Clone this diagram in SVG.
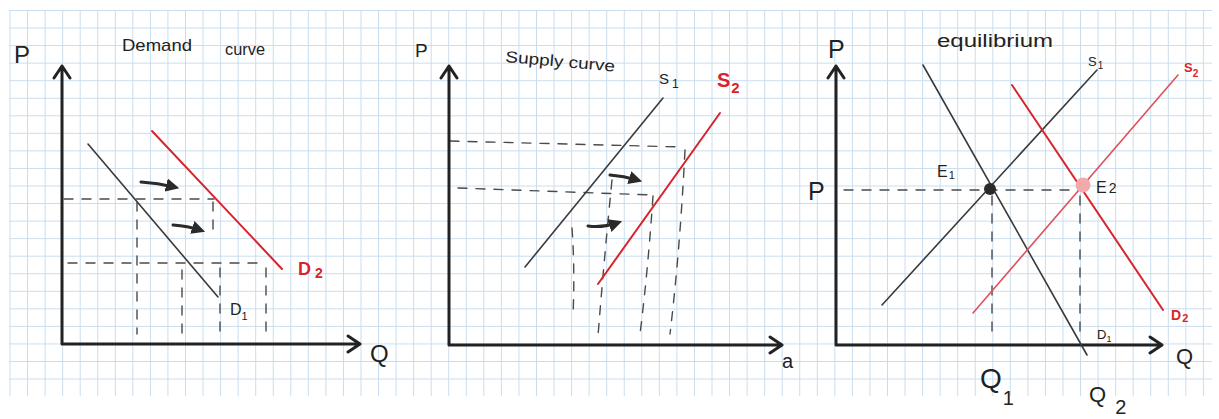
<svg xmlns="http://www.w3.org/2000/svg" width="1219" height="419" viewBox="0 0 1219 419">
<defs>
<pattern id="grid" patternUnits="userSpaceOnUse" x="9.5" y="10" width="17.55" height="17.55">
<path d="M0 0.5 H17.55 M0.5 0 V17.55" fill="none" stroke="#c9ddef" stroke-width="1"/>
</pattern>
<marker id="head" viewBox="0 0 10 10" refX="6" refY="5" markerWidth="4.5" markerHeight="4.5" orient="auto" markerUnits="strokeWidth">
<path d="M0 0 L10 5 L0 10 Z" fill="#2a2a2a"/>
</marker>
<style>
.axis{fill:none;stroke:#222;stroke-width:3;stroke-linecap:round;stroke-linejoin:round}
.blk{fill:none;stroke:#3a3a3a;stroke-width:1.6;stroke-linecap:round}
.red{fill:none;stroke:#d8242c;stroke-width:2;stroke-linecap:round}
.pink{fill:none;stroke:#e0505a;stroke-width:1.6;stroke-linecap:round}
.dash{fill:none;stroke:#4a4a4a;stroke-width:1.4;stroke-dasharray:9 9;stroke-linecap:round}
.shift{fill:none;stroke:#2a2a2a;stroke-width:3;stroke-linecap:round;marker-end:url(#head)}
.t{font-family:"Liberation Sans","DejaVu Sans",sans-serif;fill:#222}
.tr{font-family:"Liberation Sans","DejaVu Sans",sans-serif;fill:#d8242c;font-weight:bold}
</style>
</defs>
<rect x="0" y="0" width="1219" height="419" fill="#ffffff"/>
<rect x="9" y="10" width="1203" height="386" fill="url(#grid)"/>

<g id="demand-panel">
<text class="t" x="14" y="63" font-size="24">P</text>
<text class="t" x="122" y="51" font-size="17" textLength="70" lengthAdjust="spacingAndGlyphs">Demand</text>
<text class="t" x="225" y="55" font-size="17" textLength="40" lengthAdjust="spacingAndGlyphs">curve</text>
<path class="axis" d="M62 66 V344 H360 M54 78 L62 66 L70 78 M348 336 L360 344 L348 352"/>
<text class="t" x="370" y="362" font-size="24">Q</text>
</g>

<g id="demand-curves">
<line class="blk" x1="88" y1="144" x2="218" y2="297"/>
<line class="red" x1="152" y1="131" x2="282" y2="269"/>
<text class="tr" x="298" y="275" font-size="18">D<tspan font-size="14" dx="4" dy="3">2</tspan></text>
<text class="t" x="230" y="315" font-size="16">D<tspan font-size="11" dy="5">1</tspan></text>
</g>

<g id="connectors">
<path class="dash" d="M64 199 H214"/>
<path class="dash" d="M68 263 H262"/>
<path class="dash" d="M137 202 V334"/>
<path class="dash" d="M182 270 V336"/>
<path class="dash" d="M213 202 V234"/>
<path class="dash" d="M220 268 V339"/>
<path class="dash" d="M266 268 V340"/>
<path class="shift" d="M141 182 Q158 183 174 187"/>
<path class="shift" d="M173 225 Q188 226 200 230"/>
<path class="dash" d="M450 141 L682 147"/>
<path class="dash" d="M458 188 L652 195"/>
<path class="dash" d="M572 228 Q575 270 573 315"/>
<path class="dash" d="M612 180 Q604 260 598 336"/>
<path class="dash" d="M653 196 Q648 270 640 334"/>
<path class="dash" d="M685 150 Q680 250 670 334"/>
<path class="shift" d="M610 175 Q624 176 637 180"/>
<path class="shift" d="M588 226 Q602 228 617 223"/>
<path class="dash" d="M844 190 H1080"/>
<path class="dash" d="M992 196 V338"/>
<path class="dash" d="M1080 196 V338"/>
</g>

<g id="supply-panel">
<text class="t" x="415" y="57" font-size="19">P</text>
<text class="t" x="505" y="62" font-size="16" textLength="110" lengthAdjust="spacingAndGlyphs" transform="rotate(5 505 62)">Supply curve</text>
<path class="axis" d="M449 66 V345 H782 M441 78 L449 66 L457 78 M770 337 L782 345 L770 353"/>
<text class="t" x="782" y="368" font-size="20">a</text>
</g>

<g id="supply-curves">
<line class="blk" x1="525" y1="267" x2="663" y2="98"/>
<line class="red" x1="598" y1="284" x2="720" y2="113"/>
<text class="t" x="659" y="84" font-size="15">S<tspan font-size="12" dx="3" dy="4">1</tspan></text>
<text class="tr" x="717" y="87" font-size="20">S<tspan font-size="15" dx="1" dy="6">2</tspan></text>
</g>

<g id="equilibrium-panel">
<text class="t" x="828" y="58" font-size="25">P</text>
<text class="t" x="937" y="47" font-size="18" textLength="116" lengthAdjust="spacingAndGlyphs">equilibrium</text>
<path class="axis" d="M836 66 V345 H1162 M828 78 L836 66 L844 78 M1150 337 L1162 345 L1150 353"/>
<text class="t" x="808" y="200" font-size="25">P</text>
<text class="t" x="1176" y="364" font-size="22">Q</text>
<text class="t" x="980" y="388" font-size="28">Q<tspan font-size="20" dx="1" dy="17">1</tspan></text>
<text class="t" x="1089" y="402" font-size="22">Q<tspan font-size="20" dx="9" dy="12">2</tspan></text>
</g>

<g id="equilibrium-curves">
<line class="blk" x1="923" y1="65" x2="1087" y2="355"/>
<line class="blk" x1="882" y1="305" x2="1097" y2="70" stroke="#555"/>
<line class="red" x1="1012" y1="85" x2="1163" y2="310"/>
<line class="pink" x1="973" y1="313" x2="1178" y2="75"/>
<text class="t" x="1088" y="66" font-size="13">S<tspan font-size="10" dx="1" dy="3">1</tspan></text>
<text class="tr" x="1184" y="72" font-size="13">S<tspan font-size="10" dy="5">2</tspan></text>
<text class="tr" x="1171" y="320" font-size="14">D<tspan font-size="11" dx="1" dy="2">2</tspan></text>
<text class="t" x="1097" y="339" font-size="13">D<tspan font-size="9" dy="3">1</tspan></text>
</g>

<g id="E1">
<circle cx="990" cy="189" r="6" fill="#2a2a2a"/>
<text class="t" x="937" y="177" font-size="16">E<tspan font-size="11" dx="1" dy="2">1</tspan></text>
</g>
<g id="E2">
<circle cx="1083" cy="185" r="7.5" fill="#f4a9ab"/>
<text class="t" x="1096" y="193" font-size="16">E<tspan font-size="14" dx="2">2</tspan></text>
</g>
</svg>
